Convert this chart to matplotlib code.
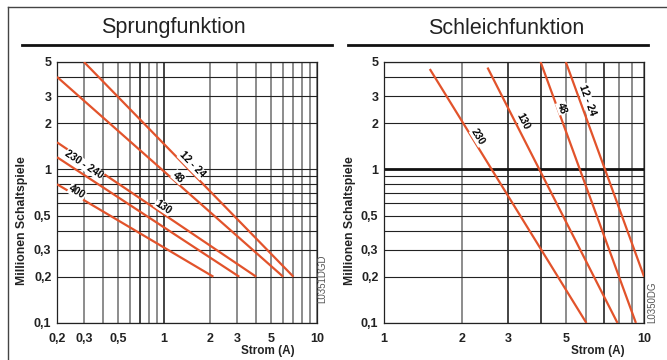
import matplotlib
matplotlib.use("Agg")
import matplotlib.pyplot as plt
import numpy as np
from matplotlib.lines import Line2D

plt.rcParams['font.family'] = ['Liberation Sans', 'DejaVu Sans']

RED = '#e2532b'

# Sprungfunktion: line end points (Strom, Schaltspiele)
sprung_names = ['12 - 24', '48', '130', '230 - 240', '400']
sprung_x = [[0.3, 7.0], [0.2, 6.0], [0.2, 4.0], [0.2, 3.1], [0.2, 2.1]]
sprung_y = [[5.0, 0.2], [4.0, 0.2], [1.5, 0.2], [1.2, 0.2], [0.8, 0.2]]
sprung_lab_x = [1.52, 1.24, 0.99, 0.30, 0.27]
sprung_lab_y = [1.07, 0.89, 0.57, 1.07, 0.71]

# Schleichfunktion
schleich_names = ['230', '130', '48', '12 - 24']
schleich_x = [[1.5, 6.0], [2.5, 7.9], [4.0, 9.3], [5.0, 10.0]]
schleich_y = [[4.5, 0.1], [4.6, 0.1], [5.0, 0.1], [5.0, 0.2]]
schleich_lab_x = [2.30, 3.42, 4.84, 6.04]
schleich_lab_y = [1.62, 2.07, 2.51, 2.83]

y_ticks = [0.1, 0.2, 0.3, 0.5, 1, 2, 3, 5]
y_ticklabels = ['0,1', '0,2', '0,3', '0,5', '1', '2', '3', '5']
y_grid = [0.1, 0.2, 0.3, 0.4, 0.5, 0.6, 0.7, 0.8, 0.9, 1, 2, 3, 4, 5]

sprung_xticks = [0.2, 0.3, 0.5, 1, 2, 3, 5, 10]
sprung_xticklabels = ['0,2', '0,3', '0,5', '1', '2', '3', '5', '10']
sprung_xgrid = [0.2, 0.3, 0.4, 0.5, 0.6, 0.7, 0.8, 0.9, 1, 2, 3, 4, 5, 6, 7, 8, 9, 10]
sprung_xblack = [0.7, 1]

schleich_xticks = [1, 2, 3, 5, 10]
schleich_xticklabels = ['1', '2', '3', '5', '10']
schleich_xgrid = [1, 2, 3, 4, 5, 6, 7, 8, 9, 10]
schleich_xblack = [3, 4, 7]


def setup_axes(ax, xlim, xticks, xticklabels, xgrid, xblack, yblack_thick):
    ax.set_xscale('log')
    ax.set_yscale('log')
    ax.set_xlim(*xlim)
    ax.set_ylim(0.1, 5)
    for gx in xgrid:
        if gx in xblack:
            ax.axvline(gx, color='#111111', lw=1.1, zorder=1)
        else:
            ax.axvline(gx, color='#6e6e6e', lw=1.1, zorder=1)
    for gy in y_grid:
        if gy == yblack_thick:
            ax.axhline(gy, color='#111111', lw=2.0, zorder=1)
        else:
            ax.axhline(gy, color='#222222', lw=0.8, zorder=1)
    ax.set_xticks(xticks)
    ax.set_xticklabels(xticklabels)
    ax.set_yticks(y_ticks)
    ax.set_yticklabels(y_ticklabels)
    ax.minorticks_off()
    ax.tick_params(length=0, labelsize=9, pad=4)
    ax.tick_params(axis='x', pad=7)
    for lab in ax.get_xticklabels() + ax.get_yticklabels():
        lab.set_fontweight('bold')
        lab.set_color('#222222')
    for sp in ax.spines.values():
        sp.set_color('#222222')
        sp.set_linewidth(0.9)


def draw_lines(ax, names, xs, ys, lx, ly):
    for name, x, y, tx, ty in zip(names, xs, ys, lx, ly):
        ax.plot(x, y, color=RED, lw=1.6, zorder=3, solid_capstyle='butt')
        p = ax.transData.transform(np.column_stack([x, y]))
        ang = np.degrees(np.arctan2(p[1, 1] - p[0, 1], p[1, 0] - p[0, 0]))
        ax.text(tx, ty, name, rotation=ang, rotation_mode='anchor',
                ha='center', va='center', fontsize=7.5, fontweight='bold', zorder=4,
                bbox=dict(facecolor='white', edgecolor='none', pad=0.3))


fig = plt.figure(figsize=(6.67, 3.6), dpi=100)
ax1 = fig.add_axes([0.0855, 0.1028, 0.390, 0.725])
ax2 = fig.add_axes([0.5757, 0.1028, 0.390, 0.725])

setup_axes(ax1, (0.2, 10), sprung_xticks, sprung_xticklabels, sprung_xgrid, sprung_xblack, None)
setup_axes(ax2, (1, 10), schleich_xticks, schleich_xticklabels, schleich_xgrid, schleich_xblack, 1)

draw_lines(ax1, sprung_names, sprung_x, sprung_y, sprung_lab_x, sprung_lab_y)
draw_lines(ax2, schleich_names, schleich_x, schleich_y, schleich_lab_x, schleich_lab_y)

# y labels
fig.text(22 / 667, 1 - 221 / 360, 'Millionen Schaltspiele', rotation=90, ha='center', va='center',
         fontsize=8.8, fontweight='bold', color='#222222')
fig.text(350 / 667, 1 - 221 / 360, 'Millionen Schaltspiele', rotation=90, ha='center', va='center',
         fontsize=8.8, fontweight='bold', color='#222222')

# x labels, right aligned under the plots
fig.text(295 / 667, 1 - 351 / 360, 'Strom (A)', ha='right', va='center', fontsize=8.5, fontweight='bold', color='#222222')
fig.text(625 / 667, 1 - 351 / 360, 'Strom (A)', ha='right', va='center', fontsize=8.5, fontweight='bold', color='#222222')

# titles with underline
fig.text(173 / 667, 1 - 28 / 360, 'Sprungfunktion', ha='center', va='center', fontsize=15.5, color='#222222')
fig.text(506 / 667, 1 - 28 / 360, 'Schleichfunktion', ha='center', va='center', fontsize=15.5, color='#222222')
fig.add_artist(Line2D([22 / 667, 332 / 667], [1 - 45 / 360, 1 - 45 / 360], color='#111111', lw=2.0))
fig.add_artist(Line2D([348 / 667, 648 / 667], [1 - 45 / 360, 1 - 45 / 360], color='#111111', lw=2.0))

# outer frame (left and top)
fig.add_artist(Line2D([8 / 667, 8 / 667], [0, 1 - 7 / 360], color='#444444', lw=1.0))
fig.add_artist(Line2D([8 / 667, 1], [1 - 7 / 360, 1 - 7 / 360], color='#444444', lw=1.0))

# drawing codes
fig.text(322 / 667, 1 - 279 / 360, 'L0351DGD', rotation=90, ha='center', va='center', fontsize=7, color='#555555')
fig.text(652 / 667, 1 - 302 / 360, 'L0350DG', rotation=90, ha='center', va='center', fontsize=7, color='#555555')

fig.savefig('out.png', dpi=100)
